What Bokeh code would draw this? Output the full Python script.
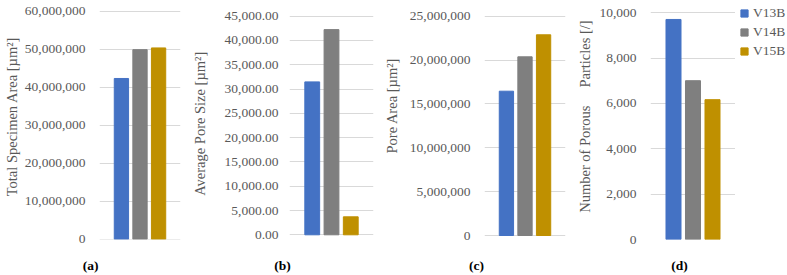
from bokeh.plotting import figure
from bokeh.layouts import row, column
from bokeh.models import (ColumnDataSource, FactorRange, Range1d, FixedTicker,
                          NumeralTickFormatter, Legend, LegendItem)
from bokeh.core.properties import value
from bokeh.embed import file_html
from bokeh.resources import INLINE

# Specimens (series) and their colours
specimens = ["V13B", "V14B", "V15B"]
colors = ["#4472C4", "#7F7F7F", "#BF9000"]

# Measured quantities per specimen
total_specimen_area = [42_350_000, 49_950_000, 50_400_000]   # µm²
average_pore_size = [31_480.0, 42_240.0, 3_700.0]            # µm²
pore_area = [16_450_000, 20_370_000, 22_880_000]             # µm²
porous_particles = [9_705, 7_004, 6_167]                      # count

# Y-axis tick values for each panel
ticks_a = [0, 10_000_000, 20_000_000, 30_000_000, 40_000_000, 50_000_000, 60_000_000]
ticks_b = [0, 5_000, 10_000, 15_000, 20_000, 25_000, 30_000, 35_000, 40_000, 45_000]
ticks_c = [0, 5_000_000, 10_000_000, 15_000_000, 20_000_000, 25_000_000]
ticks_d = [0, 2_000, 4_000, 6_000, 8_000, 10_000]

# Panel tags
tags = ["(a)", "(b)", "(c)", "(d)"]

FONT = "Liberation Serif"
TEXT_GREY = "#595959"
GRID_GREY = "#D9D9D9"
NB = "\u00a0"
CHART_H = 248
TAG_H = 275 - CHART_H
TOP, BOTTOM = 4, 9


def bare(p):
    p.outline_line_color = None
    p.background_fill_color = None
    p.border_fill_color = None
    p.grid.grid_line_color = None


def make_panel(src, ticks, y_lim, fmt, ylabel, width, left, right,
               tick_standoff, label_standoff):
    p = figure(width=width, height=CHART_H,
               x_range=FactorRange(factors=specimens, range_padding=0.68,
                                   range_padding_units="absolute"),
               y_range=Range1d(*y_lim),
               x_axis_location=None, toolbar_location=None, output_backend="svg",
               min_border_left=left, min_border_right=right,
               min_border_top=TOP, min_border_bottom=BOTTOM)
    p.vbar(x="specimen", top="value", width=0.77, color="color", source=src)

    bare(p)
    p.ygrid.grid_line_color = GRID_GREY
    p.ygrid.grid_line_width = 1

    ax = p.yaxis[0]
    ax.ticker = FixedTicker(ticks=ticks)
    ax.formatter = NumeralTickFormatter(format=fmt)
    ax.axis_line_color = None
    ax.major_tick_line_color = None
    ax.minor_tick_line_color = None
    ax.major_tick_in = 0
    ax.major_tick_out = 0
    ax.major_label_standoff = tick_standoff
    ax.major_label_text_font = FONT
    ax.major_label_text_font_size = "13.5px"
    ax.major_label_text_color = TEXT_GREY
    ax.axis_label = ylabel
    ax.axis_label_standoff = label_standoff
    ax.axis_label_text_font = FONT
    ax.axis_label_text_font_size = "14.5px"
    ax.axis_label_text_font_style = "normal"
    ax.axis_label_text_color = TEXT_GREY
    return p


def source(values):
    return ColumnDataSource(dict(specimen=specimens, value=values, color=colors))


src_d = source(porous_particles)

pa = make_panel(source(total_specimen_area), ticks_a, (-79_000, 61_844_000), "0,0",
                NB * 3 + "Total Specimen Area [µm²]", 188, 97, 8, 14, 2)
pb = make_panel(source(average_pore_size), ticks_b, (-967, 47_409), "0,0.00",
                "Average Pore Size [µm²]" + NB, 192, 101, 7, 11, 14)
pc = make_panel(source(pore_area), ticks_c, (-456_000, 26_334_000), "0,0",
                NB * 9 + "Pore Area [µm²]", 194, 102, 9, 14, 7)
pd = make_panel(src_d, ticks_d, (0, 10_365), "0,0",
                NB * 3 + "Number of Porous" + NB * 5 + "Particles [/]",
                161, 73, 0, 14, 3)

# legend column to the right of the last chart; its markers sit far outside
# the visible y-range so only the legend entries show
lf = figure(width=52, height=CHART_H, x_range=FactorRange(factors=specimens),
            y_range=Range1d(20_000, 20_001),
            x_axis_location=None, y_axis_location=None, toolbar_location=None,
            output_backend="svg", min_border_left=0, min_border_right=0,
            min_border_top=TOP, min_border_bottom=BOTTOM)
bare(lf)
legend_marks = lf.scatter(x="specimen", y="value", marker="square", size=7,
                          color="color", source=src_d)
items = [LegendItem(label=name, renderers=[legend_marks], index=i)
         for i, name in enumerate(specimens)]
lf.add_layout(Legend(items=items, location="top_left", padding=0, margin=0,
                     spacing=1, glyph_width=18, glyph_height=18, label_height=18,
                     label_standoff=0, label_text_font=FONT,
                     label_text_font_size="13.5px", label_text_color=TEXT_GREY,
                     border_line_color=None, background_fill_alpha=0))

# strip with the panel tags underneath the charts
tag_x = [90, 282, 476, 679]
strip = figure(width=787, height=TAG_H, x_range=Range1d(0, 787), y_range=Range1d(0, TAG_H),
               x_axis_location=None, y_axis_location=None, toolbar_location=None,
               output_backend="svg", min_border_left=0, min_border_right=0,
               min_border_top=0, min_border_bottom=0)
bare(strip)
strip.text(x=tag_x, y=[10] * 4, text=tags, text_align="center", text_baseline="middle",
           text_font=value(FONT), text_font_size="13.5px", text_font_style="bold",
           text_color="black")

layout = column(row(pa, pb, pc, pd, lf, spacing=0), strip, spacing=0)
open("out.html", "w").write(file_html(layout, INLINE))
